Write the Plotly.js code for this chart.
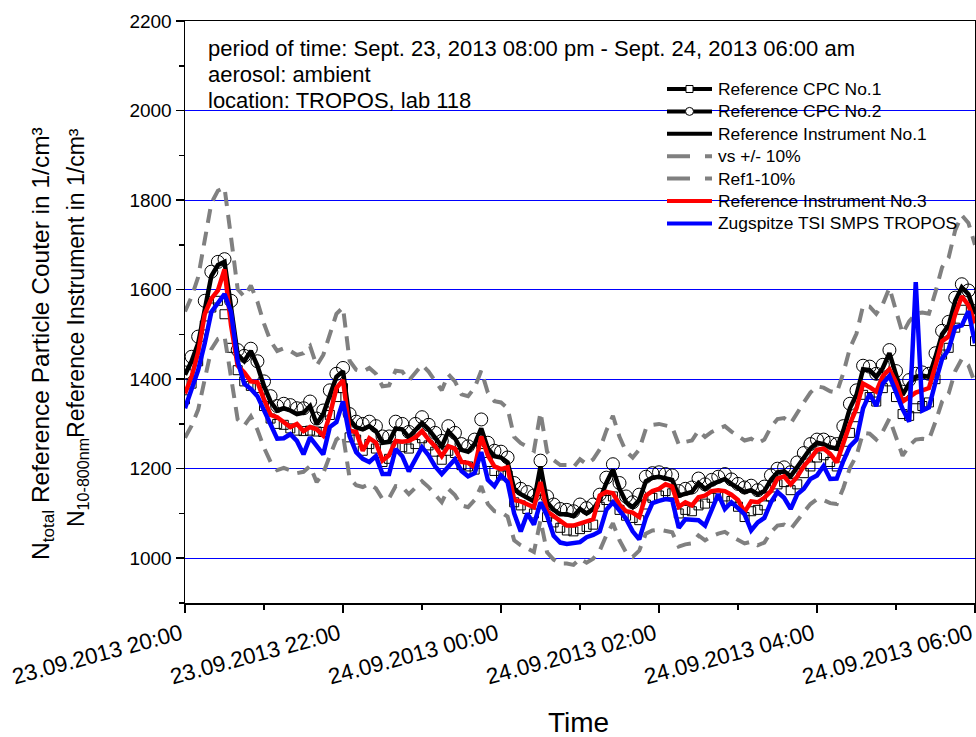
<!DOCTYPE html>
<html>
<head>
<meta charset="utf-8">
<script src="https://cdn.plot.ly/plotly-3.0.1.min.js"></script>
<style>body{margin:0;padding:0;background:#fff}#chart{width:976px;height:737px}</style>
</head>
<body>
<div id="chart"></div>
<script>
// Sampling: 5-minute values from 23.09.2013 20:00 to 24.09.2013 06:00
const startTime = [2013, 9, 23, 20, 0];
const stepMinutes = 5;
const nPoints = 121;

const xTickLabels = ['23.09.2013 20:00','23.09.2013 22:00','24.09.2013 00:00','24.09.2013 02:00','24.09.2013 04:00','24.09.2013 06:00'];

const refCPC1 = [1355,1390,1440,1520,1560,1575,1545,1470,1420,1395,1385,1380,1340,1312,1300,1298,1290,1285,1284,1285,1283,1282,1320,1360,1380,
1270,1265,1240,1255,1245,1215,1222,1250,1248,1245,1255,1268,1252,1238,1220,1240,1235,1208,1205,1198,1255,1215,1195,1185,
1185,1125,1118,1110,1100,1150,1092,1080,1068,1062,1060,1065,1070,1075,1115,1130,1138,1108,1095,1090,1085,1120,1135,1140,
1150,1145,1100,1108,1105,1118,1122,1135,1140,1138,1128,1115,1092,1105,1108,1118,1138,1165,1170,1152,1165,1190,1205,1225,
1230,1215,1205,1240,1280,1315,1365,1360,1350,1380,1395,1360,1322,1318,1335,1340,1348,1400,1455,1470,1515,1555,1530,1485];

const refCPC2 = [1415,1450,1495,1575,1640,1662,1668,1575,1465,1452,1468,1440,1395,1362,1340,1345,1342,1335,1335,1350,1312,1330,1375,1412,1425,
1322,1305,1300,1305,1295,1272,1272,1305,1300,1282,1300,1315,1298,1280,1262,1295,1280,1255,1250,1265,1310,1258,1240,1238,
1225,1168,1155,1148,1140,1218,1138,1120,1110,1108,1105,1120,1112,1120,1142,1180,1210,1168,1138,1125,1142,1182,1190,1192,
1188,1185,1150,1155,1158,1178,1165,1175,1182,1188,1176,1166,1158,1162,1152,1160,1185,1200,1203,1192,1214,1235,1255,1265,
1265,1258,1255,1295,1345,1375,1430,1428,1412,1432,1465,1418,1372,1398,1412,1415,1412,1458,1508,1528,1582,1612,1598,1552];

const refInstr1 = [1410,1440,1480,1560,1630,1655,1662,1560,1455,1440,1463,1430,1385,1350,1330,1335,1330,1322,1325,1340,1300,1322,1365,1405,1418,
1310,1292,1288,1295,1284,1258,1260,1290,1288,1270,1285,1302,1288,1268,1250,1283,1268,1242,1238,1255,1290,1245,1228,1225,
1214,1155,1143,1135,1127,1205,1125,1108,1098,1098,1094,1110,1100,1110,1130,1168,1198,1155,1125,1114,1130,1172,1180,1182,
1178,1175,1140,1145,1148,1168,1155,1165,1172,1177,1166,1156,1148,1152,1143,1150,1175,1192,1194,1183,1205,1225,1245,1258,
1255,1248,1245,1285,1335,1365,1422,1420,1405,1425,1458,1410,1365,1390,1405,1408,1405,1450,1500,1520,1575,1605,1590,1545];

const ref1Plus10 = [1551,1584,1628,1716,1793,1821,1828,1716,1601,1584,1609,1573,1524,1485,1463,1469,1463,1454,1458,1474,1430,1454,1502,1546,1560,
1441,1421,1417,1425,1412,1384,1386,1419,1417,1397,1414,1432,1417,1395,1375,1411,1395,1366,1362,1381,1419,1370,1351,1348,
1335,1271,1257,1249,1240,1326,1238,1219,1208,1208,1203,1221,1210,1221,1243,1285,1318,1271,1238,1225,1243,1289,1298,1300,
1296,1293,1254,1260,1263,1285,1271,1282,1289,1295,1283,1272,1263,1267,1257,1265,1293,1311,1313,1301,1326,1348,1370,1384,
1381,1373,1370,1414,1469,1502,1564,1562,1546,1568,1604,1551,1502,1529,1546,1549,1546,1595,1650,1672,1733,1766,1749,1700];

const ref1Minus10 = [1269,1296,1332,1404,1467,1490,1496,1404,1310,1296,1317,1287,1247,1215,1197,1202,1197,1190,1193,1206,1170,1190,1229,1265,1276,
1179,1163,1159,1166,1156,1132,1134,1161,1159,1143,1157,1172,1159,1141,1125,1155,1141,1118,1114,1130,1161,1121,1105,1103,
1093,1040,1029,1022,1014,1085,1013,997,988,988,985,999,990,999,1017,1051,1078,1040,1013,1003,1017,1055,1062,1064,
1060,1058,1026,1031,1033,1051,1040,1049,1055,1059,1049,1040,1033,1037,1029,1035,1058,1073,1075,1065,1085,1103,1121,1132,
1130,1123,1121,1157,1202,1229,1280,1278,1265,1283,1312,1269,1229,1251,1265,1267,1265,1305,1350,1368,1418,1445,1431,1391];

const refInstr3 = [1368,1405,1460,1545,1580,1598,1645,1520,1430,1415,1395,1393,1355,1320,1315,1305,1293,1300,1284,1293,1288,1274,1320,1380,1398,
1285,1282,1240,1268,1258,1218,1230,1262,1260,1262,1270,1284,1265,1250,1228,1250,1245,1215,1213,1203,1272,1230,1205,1199,
1203,1130,1127,1121,1114,1170,1105,1094,1083,1073,1073,1078,1082,1087,1140,1148,1145,1120,1105,1102,1092,1140,1150,1155,
1165,1160,1115,1125,1118,1136,1140,1150,1152,1150,1142,1130,1103,1127,1125,1135,1150,1178,1183,1165,1182,1206,1222,1242,
1245,1233,1214,1260,1300,1335,1390,1382,1372,1407,1422,1393,1350,1360,1370,1375,1380,1430,1485,1495,1545,1585,1565,1525];

const zugspitzeSMPS = [1335,1375,1420,1480,1550,1570,1590,1550,1440,1390,1378,1362,1330,1300,1267,1268,1277,1262,1232,1270,1250,1232,1293,1304,1350,
1273,1237,1222,1215,1228,1188,1188,1244,1228,1194,1220,1248,1230,1205,1188,1203,1221,1195,1183,1190,1237,1175,1161,1185,
1170,1100,1060,1100,1075,1125,1095,1050,1035,1032,1034,1036,1047,1052,1060,1108,1125,1105,1088,1060,1042,1090,1123,1128,
1132,1130,1068,1087,1085,1085,1073,1110,1143,1110,1125,1112,1098,1062,1080,1090,1125,1148,1135,1110,1143,1155,1177,1185,
1206,1177,1178,1217,1250,1265,1335,1367,1340,1390,1407,1371,1333,1305,1617,1330,1337,1393,1445,1467,1516,1520,1552,1480];

const seriesNames = ['Reference CPC No.1','Reference CPC No.2','Reference Instrument No.1','vs +/- 10%','Ref1-10%','Reference Instrument No.3','Zugspitze TSI SMPS TROPOS'];

const infoLines = ['period of time: Sept. 23, 2013 08:00 pm - Sept. 24, 2013 06:00 am','aerosol: ambient','location: TROPOS, lab 118'];
const yTitleLines = ['N<sub>total</sub> Reference Particle Couter in 1/cm³','N<sub>10-800nm</sub>Reference Instrument in 1/cm³'];
const xTitle = 'Time';

function pad(n){return (n<10?'0':'')+n;}
function fmt(d){return d.getUTCFullYear()+'-'+pad(d.getUTCMonth()+1)+'-'+pad(d.getUTCDate())+' '+pad(d.getUTCHours())+':'+pad(d.getUTCMinutes());}
const times = [];
for (let i = 0; i < nPoints; i++) {
  times.push(fmt(new Date(Date.UTC(startTime[0], startTime[1]-1, startTime[2], startTime[3], startTime[4] + i*stepMinutes))));
}
const tickVals = [];
for (let k = 0; k < xTickLabels.length; k++) {
  tickVals.push(fmt(new Date(Date.UTC(startTime[0], startTime[1]-1, startTime[2], startTime[3] + 2*k, 0))));
}

const FONT = 'Liberation Sans, Arial, sans-serif';
const BLACK = 'black', GRAY = '#808080', RED = '#FF0000', BLUE = '#0000FF';
const grayDash = {color:GRAY, width:4, dash:'14px,9px'};

// plot area in pixels (for placing layout decorations)
const PL = 185, PR = 975, PT = 21, PB = 603;
function px(x){return (x-PL)/(PR-PL);}
function py(y){return 1-(y-PT)/(PB-PT);}

const traces = [
  {x:times, y:refCPC1, name:seriesNames[0], mode:'markers',
   marker:{symbol:'square-open', size:9, color:BLACK, line:{width:1}}},
  {x:times, y:refCPC2, name:seriesNames[1], mode:'markers',
   marker:{symbol:'circle-open', size:13, color:BLACK, line:{width:1}}},
  {x:times, y:refInstr1, name:seriesNames[2], mode:'lines', line:{color:BLACK, width:4.5}},
  {x:times, y:ref1Plus10, name:seriesNames[3], mode:'lines', line:grayDash},
  {x:times, y:ref1Minus10, name:seriesNames[4], mode:'lines', line:grayDash},
  {x:times, y:refInstr3, name:seriesNames[5], mode:'lines', line:{color:RED, width:4.5}},
  {x:times, y:zugspitzeSMPS, name:seriesNames[6], mode:'lines', line:{color:BLUE, width:4.5}}
];

// hand-built legend (Origin style: tight rows)
const legendStyles = [
  {color:BLACK, width:4, dash:'solid', marker:'rect'},
  {color:BLACK, width:4, dash:'solid', marker:'circle'},
  {color:BLACK, width:4, dash:'solid'},
  {color:GRAY, width:4, dash:'23px,15px'},
  {color:GRAY, width:4, dash:'23px,15px'},
  {color:RED, width:4, dash:'solid'},
  {color:BLUE, width:4, dash:'solid'}
];
const shapes = [];
const annotations = [];
const legX0 = 667, legX1 = 712, legTextX = 716, legY0 = 89, legDY = 22.4;
legendStyles.forEach((s, k) => {
  const yy = legY0 + k*legDY;
  shapes.push({type:'line', xref:'paper', yref:'paper', x0:px(legX0), x1:px(legX1), y0:py(yy), y1:py(yy),
               line:{color:s.color, width:s.width, dash:s.dash}});
  if (s.marker === 'rect') {
    shapes.push({type:'rect', xref:'paper', yref:'paper', x0:px(686), x1:px(693), y0:py(yy-3.5), y1:py(yy+3.5),
                 fillcolor:'white', line:{color:BLACK, width:1}});
  } else if (s.marker === 'circle') {
    shapes.push({type:'circle', xref:'paper', yref:'paper', x0:px(685.5), x1:px(693.5), y0:py(yy-4), y1:py(yy+4),
                 fillcolor:'white', line:{color:BLACK, width:1}});
  }
  annotations.push({xref:'paper', yref:'paper', x:px(legTextX), y:py(yy), xanchor:'left', yanchor:'middle',
                    showarrow:false, text:seriesNames[k], font:{family:FONT, size:17.4, color:BLACK}});
});

infoLines.forEach((t, k) => {
  annotations.push({xref:'paper', yref:'paper', x:px(206), y:py(48 + k*26.5), xanchor:'left', yanchor:'middle',
                    showarrow:false, text:t, font:{family:FONT, size:22, color:BLACK}});
});

annotations.push({xref:'paper', yref:'paper', x:px(42), y:py(344), xanchor:'center', yanchor:'middle', textangle:-90,
                  showarrow:false, text:yTitleLines[0], font:{family:FONT, size:24.5, color:BLACK}});
annotations.push({xref:'paper', yref:'paper', x:px(77), y:py(328), xanchor:'center', yanchor:'middle', textangle:-90,
                  showarrow:false, text:yTitleLines[1], font:{family:FONT, size:23, color:BLACK}});
annotations.push({xref:'paper', yref:'paper', x:px(578), y:py(722), xanchor:'center', yanchor:'middle',
                  showarrow:false, text:xTitle, font:{family:FONT, size:28, color:BLACK}});

const layout = {
  width:976, height:737,
  margin:{l:PL, r:976-PR, t:PT, b:737-PB},
  paper_bgcolor:'white', plot_bgcolor:'white',
  font:{family:FONT, color:BLACK},
  showlegend:false,
  xaxis:{
    type:'date',
    range:[tickVals[0], tickVals[tickVals.length-1]],
    tickmode:'array', tickvals:tickVals, ticktext:xTickLabels,
    tickangle:-15, ticks:'outside', ticklen:8, tickwidth:1.5, tickcolor:BLACK,
    ticklabeloverflow:'allow', ticklabelshift:-4,
    minor:{dtick:3600000, tick0:tickVals[0], ticks:'outside', ticklen:5, tickwidth:1.5, tickcolor:BLACK, showgrid:false},
    showline:true, linecolor:BLACK, linewidth:1.5, mirror:true,
    showgrid:false, zeroline:false,
    tickfont:{family:FONT, size:22.5, color:BLACK}
  },
  yaxis:{
    range:[900, 2200], tick0:1000, dtick:200,
    ticks:'outside', ticklen:8, tickwidth:1.5, tickcolor:BLACK,
    minor:{dtick:100, tick0:900, ticks:'outside', ticklen:5, tickwidth:1.5, tickcolor:BLACK, showgrid:false},
    showline:true, linecolor:BLACK, linewidth:1.5, mirror:true,
    showgrid:true, gridcolor:BLUE, gridwidth:1, zeroline:false,
    tickfont:{family:FONT, size:19, color:BLACK}
  },
  shapes:shapes,
  annotations:annotations
};

Plotly.newPlot('chart', traces, layout, {displayModeBar:false, staticPlot:true});
</script>
</body>
</html>
